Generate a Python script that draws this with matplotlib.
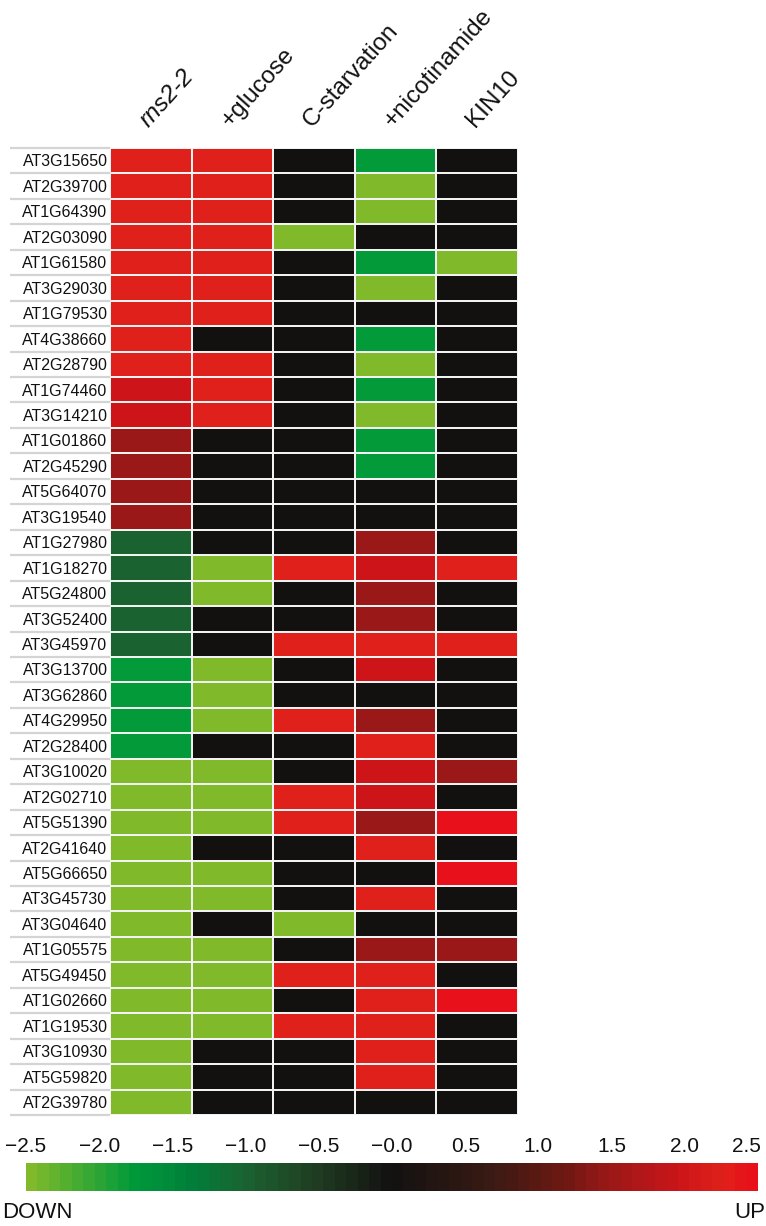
import numpy as np
import matplotlib
matplotlib.use("Agg")
import matplotlib.pyplot as plt
from matplotlib.colors import LinearSegmentedColormap, Normalize
import matplotlib.cm as cm

plt.rcParams['font.family'] = ['Liberation Sans', 'DejaVu Sans']

genes = ["AT3G15650", "AT2G39700", "AT1G64390", "AT2G03090", "AT1G61580",
         "AT3G29030", "AT1G79530", "AT4G38660", "AT2G28790", "AT1G74460",
         "AT3G14210", "AT1G01860", "AT2G45290", "AT5G64070", "AT3G19540",
         "AT1G27980", "AT1G18270", "AT5G24800", "AT3G52400", "AT3G45970",
         "AT3G13700", "AT3G62860", "AT4G29950", "AT2G28400", "AT3G10020",
         "AT2G02710", "AT5G51390", "AT2G41640", "AT5G66650", "AT3G45730",
         "AT3G04640", "AT1G05575", "AT5G49450", "AT1G02660", "AT1G19530",
         "AT3G10930", "AT5G59820", "AT2G39780"]
conditions = ["rns2-2", "+glucose", "C-starvation", "+nicotinamide", "KIN10"]

# estimated log-fold values per condition (column)
rns2_2 = [2.3, 2.3, 2.3, 2.3, 2.3, 2.3, 2.3, 2.3, 2.3, 2.0,
          2.0, 1.5, 1.5, 1.5, 1.5, -1.0, -1.0, -1.0, -1.0, -1.0,
          -1.8, -1.8, -1.8, -1.8, -2.5, -2.5, -2.5, -2.5, -2.5, -2.5,
          -2.5, -2.5, -2.5, -2.5, -2.5, -2.5, -2.5, -2.5]
glucose = [2.3, 2.3, 2.3, 2.3, 2.3, 2.3, 2.3, 0.0, 2.3, 2.3,
           2.3, 0.0, 0.0, 0.0, 0.0, 0.0, -2.5, -2.5, 0.0, 0.0,
           -2.5, -2.5, -2.5, 0.0, -2.5, -2.5, -2.5, 0.0, -2.5, -2.5,
           0.0, -2.5, -2.5, -2.5, -2.5, 0.0, 0.0, 0.0]
c_starvation = [0.0, 0.0, 0.0, -2.5, 0.0, 0.0, 0.0, 0.0, 0.0, 0.0,
                0.0, 0.0, 0.0, 0.0, 0.0, 0.0, 2.3, 0.0, 0.0, 2.3,
                0.0, 0.0, 2.3, 0.0, 0.0, 2.3, 2.3, 0.0, 0.0, 0.0,
                -2.5, 0.0, 2.3, 0.0, 2.3, 0.0, 0.0, 0.0]
nicotinamide = [-1.8, -2.5, -2.5, 0.0, -1.8, -2.5, 0.0, -1.8, -2.5, -1.8,
                -2.5, -1.8, -1.8, 0.0, 0.0, 1.5, 2.0, 1.5, 1.5, 2.3,
                2.0, 0.0, 1.5, 2.3, 2.0, 2.0, 1.5, 2.3, 0.0, 2.3,
                0.0, 1.5, 2.3, 2.3, 2.3, 2.3, 2.3, 0.0]
kin10 = [0.0, 0.0, 0.0, 0.0, -2.5, 0.0, 0.0, 0.0, 0.0, 0.0,
         0.0, 0.0, 0.0, 0.0, 0.0, 0.0, 2.3, 0.0, 0.0, 2.3,
         0.0, 0.0, 0.0, 0.0, 1.5, 0.0, 2.5, 0.0, 2.5, 0.0,
         0.0, 1.5, 0.0, 2.5, 0.0, 0.0, 0.0, 0.0]

cbar_ticks = [-2.5, -2.0, -1.5, -1.0, -0.5, -0.0, 0.5, 1.0, 1.5, 2.0, 2.5]
cbar_ticklabels = ["\u22122.5", "\u22122.0", "\u22121.5", "\u22121.0", "\u22120.5",
                   "\u22120.0", "0.5", "1.0", "1.5", "2.0", "2.5"]

data = np.array([rns2_2, glucose, c_starvation, nicotinamide, kin10]).T

vmin, vmax = -2.5, 2.5
nodes = [(-2.5, "#80ba2a"), (-1.8, "#009a3a"), (-1.4, "#00803a"),
         (-1.0, "#1b6130"), (-0.5, "#1f3a20"), (0.0, "#121110"),
         (0.7, "#3a1a14"), (1.2, "#6e1812"), (1.5, "#9a1818"),
         (2.0, "#cc1519"), (2.3, "#e0201a"), (2.5, "#e8101a")]
cmap = LinearSegmentedColormap.from_list(
    "gkr", [((v - vmin) / (vmax - vmin), c) for v, c in nodes])
norm = Normalize(vmin=vmin, vmax=vmax)

fig = plt.figure(figsize=(7.66, 12.26), dpi=100)
ax = fig.add_axes([110 / 766, 1 - 1115 / 1226, 408 / 766, (1115 - 148) / 1226])

nrows, ncols = data.shape
mesh = ax.pcolormesh(np.arange(ncols + 1), np.arange(nrows + 1), data,
                     cmap=cmap, norm=norm, edgecolors="#f2f2f2", linewidth=1.1)
ax.set_xlim(0, ncols)
ax.set_ylim(nrows, 0)
for s in ax.spines.values():
    s.set_visible(False)
ax.set_xticks([])
ax.set_yticks([])

# row labels with light separators
px = 408 / ncols
for i, g in enumerate(genes):
    ax.text(-0.03, i + 0.55, g, ha="right", va="center", fontsize=11.5,
            color="#111111")
ax.hlines(np.arange(nrows + 1), -100 / px, 0, colors="#d4d4d4",
          linewidth=1.6, clip_on=False)

# column headers
for j, c in enumerate(conditions):
    style = "italic" if j == 0 else "normal"
    ax.text(j + 0.47, -0.79, c, rotation=48, rotation_mode="anchor",
            ha="left", va="baseline", fontsize=17.5, fontstyle=style,
            color="#111111")

# colorbar (stepped like the reference)
cax = fig.add_axes([26 / 766, 1 - 1191 / 1226, 732 / 766, 28 / 1226])
sm = cm.ScalarMappable(norm=norm, cmap=cmap.resampled(64))
cb = fig.colorbar(sm, cax=cax, orientation="horizontal")
cb.outline.set_visible(False)
cb.set_ticks(cbar_ticks)
cax.tick_params(axis="x", length=0, labelbottom=False)
for k, (v, lab) in enumerate(zip(cbar_ticks, cbar_ticklabels)):
    last = k == len(cbar_ticks) - 1
    cax.text(v + (0.02 if last else 0), 1.0 + 7 / 28, lab,
             transform=cax.get_xaxis_transform(),
             ha="right" if last else "center", va="bottom",
             fontsize=15, color="#111111", clip_on=False)

fig.text(2 / 766, 1 - 1212 / 1226, "DOWN", ha="left", va="center",
         fontsize=16, color="#111111")
fig.text(765 / 766, 1 - 1212 / 1226, "UP", ha="right", va="center",
         fontsize=16, color="#111111")

fig.savefig("out.png", dpi=100)
